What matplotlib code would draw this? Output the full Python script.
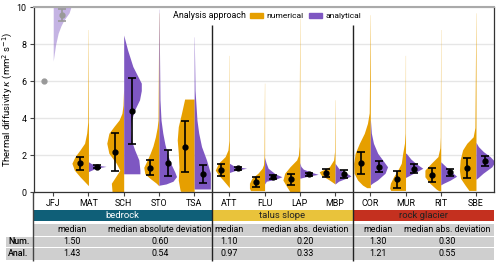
import matplotlib
matplotlib.use("Agg")
import matplotlib.pyplot as plt
from matplotlib.patches import Rectangle, Patch

plt.rcParams['font.family'] = ['Roboto', 'DejaVu Sans']

# data
categories = ['JFJ', 'MAT', 'SCH', 'STO', 'TSA', 'ATT', 'FLU', 'LAP', 'MBP', 'COR', 'MUR', 'RIT', 'SBE']
groups = ['bedrock', 'talus slope', 'rock glacier']
group_span = [(-0.56, 4.5), (4.5, 8.5), (8.5, 12.52)]
group_colors = ['#0f5f78', '#e9c33b', '#c4301f']
group_text = ['white', '#222222', '#222222']

# medians and error bars (numerical / analytical)
num_med = [6.0, 1.6, 2.16, 1.33, 2.47, 1.2, 0.54, 0.7, 1.04, 1.57, 0.7, 0.92, 1.3]
num_lo = [None, 1.22, 1.15, 0.92, 1.1, 0.88, 0.27, 0.39, 0.83, 0.97, 0.22, 0.54, 0.76]
num_hi = [None, 1.93, 3.19, 1.75, 3.87, 1.53, 0.84, 1.0, 1.24, 2.2, 1.15, 1.3, 1.84]
ana_med = [9.58, 1.39, 4.39, 1.57, 0.99, 1.3, 0.81, 0.97, 0.99, 1.38, 1.26, 1.08, 1.69]
ana_lo = [9.28, 1.33, 2.6, 0.88, 0.49, 1.22, 0.73, 0.9, 0.79, 1.08, 1.03, 0.88, 1.42]
ana_hi = [9.89, 1.47, 6.16, 2.29, 1.48, 1.37, 0.91, 1.05, 1.19, 1.69, 1.51, 1.26, 1.98]

# violin outlines: kappa values and half widths
num_y = [
    [],
    [0.36, 0.84, 1.2, 1.57, 1.93, 2.29, 2.65, 3.2, 3.8, 8.8],
    [0.03, 0.49, 0.84, 1.2, 1.57, 2.11, 2.65, 3.19, 3.55, 3.91, 4.27, 4.7, 5.5],
    [0.35, 0.5, 0.75, 1.0, 1.35, 1.75, 2.1, 2.5, 3.0, 3.5, 3.9, 9.7],
    [0.05, 0.12, 0.66, 1.38, 2.11, 2.83, 3.55, 4.27, 5.04],
    [0.25, 0.39, 0.66, 0.94, 1.2, 1.57, 1.93, 2.29, 2.8, 7.4],
    [0.09, 0.22, 0.49, 0.76, 1.03, 1.3, 1.5, 2.0, 5.9],
    [0.03, 0.3, 0.66, 1.03, 1.38, 1.75, 2.0, 2.5, 9.4],
    [0.45, 0.66, 0.94, 1.11, 1.38, 1.75, 2.2, 5.0],
    [0.25, 0.39, 0.66, 1.03, 1.57, 2.11, 2.65, 3.19, 3.73, 4.3, 9.6],
    [0.1, 0.22, 0.49, 0.84, 1.2, 1.57, 2.11, 2.65, 3.2, 7.4],
    [0.08, 0.16, 0.49, 0.84, 1.2, 1.57, 1.93, 2.4, 3.0, 8.8],
    [0.1, 0.39, 0.76, 1.2, 1.75, 2.29, 2.65, 3.0, 3.5, 9.7],
]
num_w = [
    [],
    [0, 0.24, 0.4, 0.47, 0.38, 0.24, 0.11, 0.05, 0.02, 0.004],
    [0.33, 0.35, 0.23, 0.11, 0.21, 0.42, 0.48, 0.42, 0.28, 0.13, 0.05, 0.02, 0.004],
    [0, 0.08, 0.25, 0.4, 0.43, 0.33, 0.25, 0.17, 0.1, 0.05, 0.025, 0.004],
    [0.38, 0.4, 0.45, 0.43, 0.45, 0.48, 0.45, 0.36, 0.27],
    [0, 0.06, 0.18, 0.31, 0.4, 0.31, 0.12, 0.04, 0.015, 0.004],
    [0.4, 0.43, 0.43, 0.36, 0.19, 0.07, 0.03, 0.015, 0.004],
    [0.28, 0.37, 0.48, 0.43, 0.28, 0.09, 0.04, 0.02, 0.004],
    [0, 0.16, 0.4, 0.45, 0.16, 0.04, 0.015, 0.004],
    [0.1, 0.22, 0.36, 0.46, 0.47, 0.43, 0.31, 0.17, 0.08, 0.03, 0.004],
    [0.42, 0.45, 0.43, 0.34, 0.22, 0.12, 0.08, 0.03, 0.012, 0.004],
    [0.05, 0.12, 0.31, 0.45, 0.45, 0.27, 0.08, 0.025, 0.012, 0.004],
    [0.2, 0.31, 0.44, 0.47, 0.45, 0.38, 0.26, 0.08, 0.03, 0.004],
]
ana_y = [
    [7.1, 7.5, 8.0, 8.6, 9.0, 9.3, 9.7, 10.0, 10.4],
    [1.12, 1.25, 1.35, 1.4, 1.45, 1.55, 1.65],
    [1.0, 1.2, 1.75, 2.3, 2.8, 3.4, 3.9, 4.45, 5.0, 5.5, 5.9, 6.8, 7.7, 8.5],
    [0.38, 0.45, 0.6, 0.85, 1.1, 1.5, 2.0, 2.6, 3.2, 3.9, 5.0, 9.9],
    [0.18, 1.04, 1.75, 2.47, 3.2, 3.9, 4.8, 5.5, 8.4],
    [1.07, 1.2, 1.3, 1.4, 1.57],
    [0.45, 0.6, 0.7, 0.84, 1.0, 1.3, 1.6, 1.89],
    [0.76, 0.88, 0.97, 1.1, 1.25, 1.4, 1.6],
    [0.45, 0.6, 0.75, 0.88, 0.95, 1.1, 1.3, 1.57],
    [0.4, 0.48, 0.66, 1.03, 1.38, 1.75, 2.11, 2.65, 3.2, 3.9],
    [0.8, 0.9, 1.1, 1.3, 1.55, 1.8, 2.11],
    [0.4, 0.48, 0.66, 0.87, 1.11, 1.38, 1.65],
    [0.7, 0.81, 1.03, 1.38, 1.65, 1.93, 2.2, 2.47, 2.7],
]
ana_w = [
    [0, 0.03, 0.07, 0.14, 0.22, 0.3, 0.45, 0.5, 0.45],
    [0, 0.15, 0.35, 0.5, 0.3, 0.08, 0],
    [0.46, 0.46, 0.43, 0.31, 0.22, 0.2, 0.22, 0.31, 0.45, 0.5, 0.5, 0.26, 0.11, 0],
    [0, 0.2, 0.4, 0.5, 0.45, 0.35, 0.25, 0.17, 0.11, 0.06, 0.03, 0.004],
    [0.46, 0.46, 0.35, 0.21, 0.13, 0.08, 0.05, 0.025, 0.004],
    [0, 0.2, 0.49, 0.15, 0],
    [0, 0.05, 0.3, 0.49, 0.3, 0.1, 0.04, 0],
    [0, 0.25, 0.52, 0.3, 0.1, 0.03, 0],
    [0, 0.1, 0.3, 0.45, 0.4, 0.25, 0.1, 0],
    [0, 0.05, 0.2, 0.42, 0.49, 0.35, 0.21, 0.09, 0.03, 0.004],
    [0, 0.1, 0.3, 0.49, 0.3, 0.15, 0.02],
    [0, 0.07, 0.27, 0.45, 0.3, 0.15, 0],
    [0, 0.07, 0.2, 0.45, 0.54, 0.4, 0.21, 0.07, 0],
]

# summary table
col_heads = ['median', 'median absolute deviation', 'median', 'median abs. deviation',
             'median', 'median abs. deviation']
col_pos = [0.53, 3.03, 4.99, 7.15, 9.22, 11.18]
num_stats = [1.50, 0.60, 1.10, 0.20, 1.30, 0.30]
ana_stats = [1.43, 0.54, 0.97, 0.33, 1.21, 0.55]

c_num = '#e69f00'
c_ana = '#7e57c2'
grey = '#999999'
fs = 6.4

fig = plt.figure(figsize=(5, 2.66), dpi=100)
ax = fig.add_axes([33.5 / 500, 1 - 192.3 / 266, 460.8 / 500, 185 / 266], zorder=2)

# violins
for i in range(len(categories)):
    if num_y[i]:
        ax.fill_betweenx(num_y[i], [i - w for w in num_w[i]], i, color=c_num, lw=0, zorder=2)
    a = 0.45 if i == 0 else 1
    ax.fill_betweenx(ana_y[i], i, [i + w for w in ana_w[i]], color=c_ana, alpha=a, lw=0, zorder=2)

# error bars
for i in range(len(categories)):
    col = grey if i == 0 else 'black'
    if num_lo[i] is not None:
        ax.errorbar(i - 0.25, num_med[i], yerr=[[num_med[i] - num_lo[i]], [num_hi[i] - num_med[i]]],
                    fmt='o', color=col, ms=3.5, lw=1.2, capsize=3, capthick=1.2, zorder=4)
    else:
        ax.plot(i - 0.25, num_med[i], 'o', color=col, ms=3.5, zorder=4)
    ax.errorbar(i + 0.25, ana_med[i], yerr=[[ana_med[i] - ana_lo[i]], [ana_hi[i] - ana_med[i]]],
                fmt='o', color=col, ms=3.5, lw=1.2, capsize=3, capthick=1.2, zorder=4)

ax.vlines([4.5, 8.5], 0, 9.05, color='#222222', lw=1, zorder=3)

ax.set_xlim(-0.56, 12.52)
ax.set_ylim(0, 10)
ax.set_yticks([0, 2, 4, 6, 8, 10])
ax.set_xticks(range(len(categories)))
ax.set_xticklabels(categories)
ax.tick_params(labelsize=fs, length=3, width=0.8, color='#444444', pad=2)
ax.grid(axis='y', color='#e6e6e6', lw=1)
ax.set_axisbelow(True)
for s in ['left', 'right', 'bottom']:
    ax.spines[s].set_color('#333333')
    ax.spines[s].set_linewidth(0.9)
ax.spines['top'].set_color('#aaaaaa')
ax.spines['top'].set_linewidth(1.5)
ax.set_ylabel(r'Thermal diffusivity $\kappa$ (mm$^2$ s$^{-1}$)', fontsize=6.8)
ax.yaxis.set_label_coords(-0.042, 0.5)

# legend
ax.text(4.42, 9.55, 'Analysis approach', ha='center', va='center', fontsize=fs, zorder=6)
handles = [Patch(color=c_num, label='numerical'), Patch(color=c_ana, label='analytical')]
ax.legend(handles=handles, loc='center left', bbox_to_anchor=(0.47, 0.953), ncol=2,
          frameon=False, fontsize=6, handlelength=1.6, handleheight=0.5,
          handletextpad=0.4, columnspacing=0.6, borderpad=0, borderaxespad=0)

# table below the plot, in pixel rows
tab = fig.add_axes([0, 0, 1, 1], zorder=1)
tab.set_xlim(-0.56 - 33.5 / 35.23, 12.52 + 5.7 / 35.23)
tab.set_ylim(266, 0)
tab.axis('off')

for g, (x0, x1) in enumerate(group_span):
    tab.add_patch(Rectangle((x0, 210), x1 - x0, 10.7, fc=group_colors[g], ec='none'))
    tab.text((x0 + x1) / 2, 215.6, groups[g], ha='center', va='center', fontsize=6.8,
             color=group_text[g])

left_x = -0.56 - 27 / 35.23
tab.add_patch(Rectangle((-0.56, 224.3), 13.08, 11.4, fc='#cfcfcf', ec='none'))
tab.add_patch(Rectangle((left_x, 236.7), 12.52 - left_x, 10.6, fc='#cfcfcf', ec='none'))
tab.add_patch(Rectangle((left_x, 248.0), 12.52 - left_x, 12.0, fc='#cfcfcf', ec='none'))
tab.text(left_x + 0.05, 242, 'Num.', ha='left', va='center', fontsize=fs, fontweight='medium')
tab.text(left_x + 0.05, 254, 'Anal.', ha='left', va='center', fontsize=fs, fontweight='medium')
for k in range(len(col_heads)):
    tab.text(col_pos[k], 230, col_heads[k], ha='center', va='center', fontsize=fs)
    tab.text(col_pos[k], 242, '%.2f' % num_stats[k], ha='center', va='center', fontsize=fs)
    tab.text(col_pos[k], 254, '%.2f' % ana_stats[k], ha='center', va='center', fontsize=fs)

tab.vlines([-0.56], 192, 260.7, color='#444444', lw=1)
tab.vlines([4.5, 8.5], 192, 260.7, color='#222222', lw=1)

fig.savefig('out.png', dpi=100)
